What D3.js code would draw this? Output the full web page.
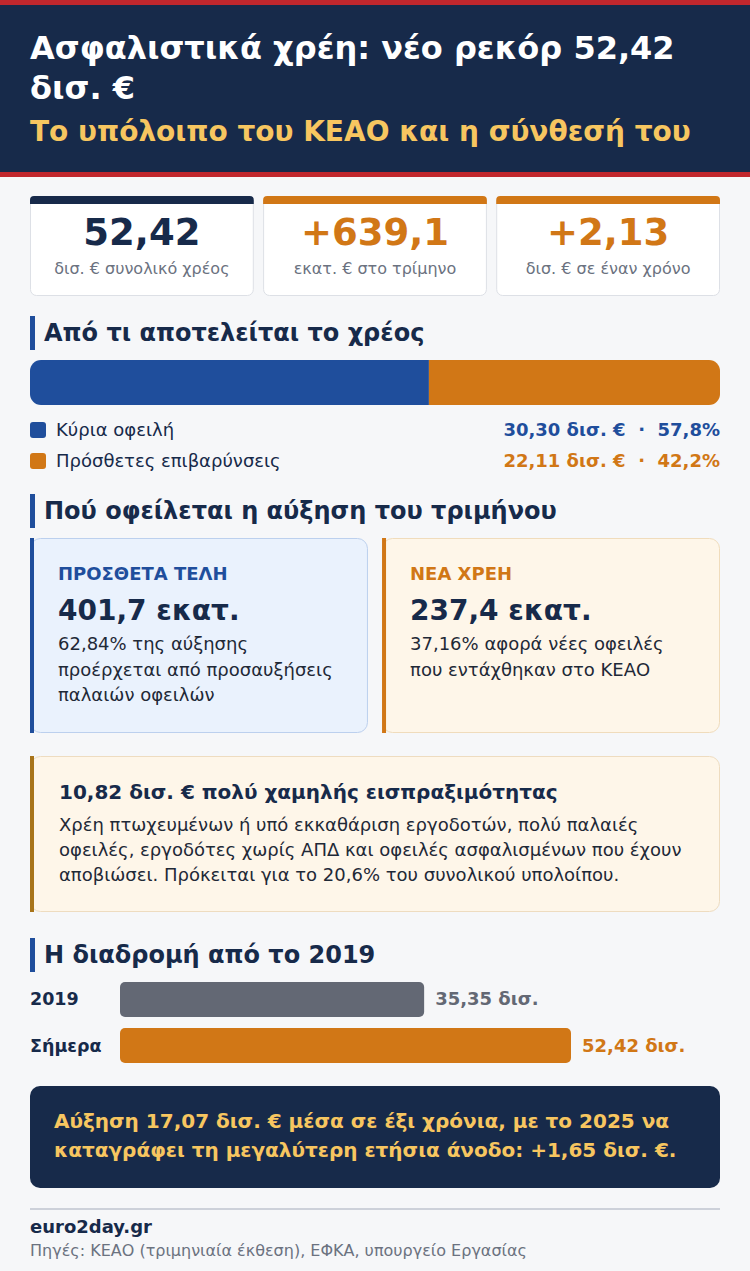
<!DOCTYPE html>
<html>
<head>
<meta charset="utf-8">
<script src="https://cdn.jsdelivr.net/npm/d3@7"></script>
<style>
  html, body { margin: 0; padding: 0; background: #f6f7f9; }
  svg { display: block; font-family: "DejaVu Sans", sans-serif; }
</style>
</head>
<body>
<div id="chart"></div>
<script>
// Δεδομένα
const titleLines = ["Ασφαλιστικά χρέη: νέο ρεκόρ 52,42", "δισ. €"];
const subtitle = "Το υπόλοιπο του ΚΕΑΟ και η σύνθεσή του";

const statValues = ["52,42", "+639,1", "+2,13"];
const statLabels = ["δισ. € συνολικό χρέος", "εκατ. € στο τρίμηνο", "δισ. € σε έναν χρόνο"];

const compNames = ["Κύρια οφειλή", "Πρόσθετες επιβαρύνσεις"];
const compValues = [30.30, 22.11];
const compLabels = ["30,30 δισ. €  ·  57,8%", "22,11 δισ. €  ·  42,2%"];

const growthTitles = ["ΠΡΟΣΘΕΤΑ ΤΕΛΗ", "ΝΕΑ ΧΡΕΗ"];
const growthValues = ["401,7 εκατ.", "237,4 εκατ."];
const growthText = [
  ["62,84% της αύξησης", "προέρχεται από προσαυξήσεις", "παλαιών οφειλών"],
  ["37,16% αφορά νέες οφειλές", "που εντάχθηκαν στο ΚΕΑΟ"]
];

const noteTitle = "10,82 δισ. € πολύ χαμηλής εισπραξιμότητας";
const noteText = [
  "Χρέη πτωχευμένων ή υπό εκκαθάριση εργοδοτών, πολύ παλαιές",
  "οφειλές, εργοδότες χωρίς ΑΠΔ και οφειλές ασφαλισμένων που έχουν",
  "αποβιώσει. Πρόκειται για το 20,6% του συνολικού υπολοίπου."
];

const pathYears = ["2019", "Σήμερα"];
const pathValues = [35.35, 52.42];
const pathLabels = ["35,35 δισ.", "52,42 δισ."];

const summary = [
  "Αύξηση 17,07 δισ. € μέσα σε έξι χρόνια, με το 2025 να",
  "καταγράφει τη μεγαλύτερη ετήσια άνοδο: +1,65 δισ. €."
];
const source = "euro2day.gr";
const sourceNote = "Πηγές: ΚΕΑΟ (τριμηνιαία έκθεση), ΕΦΚΑ, υπουργείο Εργασίας";

// Χρώματα
const navy = "#172a4a";
const orange = "#d17716";
const blue = "#1f4e9c";
const yellow = "#f7c660";
const gray = "#6b7280";

const W = 750, H = 1271;
const svg = d3.select("#chart").append("svg").attr("width", W).attr("height", H);

svg.append("rect").attr("width", W).attr("height", H).attr("fill", "#f6f7f9");

// Κεφαλίδα
svg.append("rect").attr("width", W).attr("height", 177).attr("fill", "#c1272d");
svg.append("rect").attr("y", 5).attr("width", W).attr("height", 167).attr("fill", navy);
titleLines.forEach((t, i) => {
  svg.append("text").attr("x", 30).attr("y", 59 + i * 40)
    .attr("fill", "#fff").attr("font-size", 32).attr("font-weight", "bold").text(t);
});
svg.append("text").attr("x", 30).attr("y", 141)
  .attr("fill", yellow).attr("font-size", 28).attr("font-weight", "bold").text(subtitle);

// Κάρτες στατιστικών
const statX = d3.scaleBand().domain(d3.range(statValues.length)).range([30, 720]).paddingInner(0.04);
const statColors = [navy, orange, orange];
const stat = svg.selectAll("g.stat").data(statValues).join("g")
  .attr("class", "stat").attr("transform", (d, i) => `translate(${statX(i)},196)`);
stat.append("rect").attr("x", 0.5).attr("y", 0.5).attr("width", statX.bandwidth() - 1).attr("height", 99).attr("rx", 6)
  .attr("fill", "#fff").attr("stroke", "#dde0e6");
stat.append("path")
  .attr("d", `M0,8 V4 A4,4 0 0 1 4,0 H${statX.bandwidth() - 4} A4,4 0 0 1 ${statX.bandwidth()},4 V8 Z`)
  .attr("fill", (d, i) => statColors[i]);
stat.append("text").attr("x", statX.bandwidth() / 2).attr("y", 49)
  .attr("text-anchor", "middle").attr("font-size", 37).attr("font-weight", "bold")
  .attr("fill", (d, i) => statColors[i]).text(d => d);
stat.append("text").attr("x", statX.bandwidth() / 2).attr("y", 78)
  .attr("text-anchor", "middle").attr("font-size", 16).attr("fill", gray)
  .text((d, i) => statLabels[i]);

function heading(y, text) {
  svg.append("rect").attr("x", 30).attr("y", y).attr("width", 5).attr("height", 34).attr("fill", blue);
  svg.append("text").attr("x", 44).attr("y", y + 25).attr("font-size", 24)
    .attr("font-weight", "bold").attr("fill", navy).text(text);
}

// Σύνθεση χρέους
heading(316, "Από τι αποτελείται το χρέος");
const total = d3.sum(compValues);
const compX = d3.scaleLinear().domain([0, total]).range([30, 720]);
const stacked = compValues.map((v, i) => ({ v, start: d3.sum(compValues.slice(0, i)) }));
const compColors = [blue, orange];
svg.append("clipPath").attr("id", "barclip").append("rect")
  .attr("x", 30).attr("y", 360).attr("width", 690).attr("height", 45).attr("rx", 11);
svg.append("g").attr("clip-path", "url(#barclip)")
  .selectAll("rect").data(stacked).join("rect")
  .attr("x", d => compX(d.start)).attr("y", 360)
  .attr("width", d => compX(d.start + d.v) - compX(d.start)).attr("height", 45)
  .attr("fill", (d, i) => compColors[i]);

const legend = svg.selectAll("g.leg").data(compNames).join("g")
  .attr("class", "leg").attr("transform", (d, i) => `translate(0,${422 + i * 31})`);
legend.append("rect").attr("x", 30).attr("width", 16).attr("height", 16).attr("rx", 3)
  .attr("fill", (d, i) => compColors[i]);
legend.append("text").attr("x", 56).attr("y", 14).attr("font-size", 18).attr("fill", navy).text(d => d);
legend.append("text").attr("x", 720).attr("y", 14).attr("text-anchor", "end")
  .attr("font-size", 18).attr("font-weight", "bold").attr("fill", (d, i) => compColors[i])
  .attr("xml:space", "preserve").text((d, i) => compLabels[i]);

// Αύξηση τριμήνου
heading(494, "Πού οφείλεται η αύξηση του τριμήνου");
const gx = d3.scaleBand().domain(d3.range(2)).range([30, 720]).paddingInner(0.04);
const gFill = ["#eaf2fd", "#fef6e9"];
const gStroke = ["#bcd0ee", "#f0dcbc"];
const gAccent = [blue, orange];
const gCard = svg.selectAll("g.grow").data(growthTitles).join("g")
  .attr("class", "grow").attr("transform", (d, i) => `translate(${gx(i)},538)`);
gCard.append("rect").attr("x", 0.5).attr("y", 0.5).attr("width", gx.bandwidth() - 1).attr("height", 194)
  .attr("rx", 10).attr("fill", (d, i) => gFill[i]).attr("stroke", (d, i) => gStroke[i]);
gCard.append("rect").attr("width", 4).attr("height", 195).attr("fill", (d, i) => gAccent[i]);
gCard.append("text").attr("x", 28).attr("y", 42).attr("font-size", 18).attr("font-weight", "bold")
  .attr("fill", (d, i) => gAccent[i]).text(d => d);
gCard.append("text").attr("x", 28).attr("y", 82).attr("font-size", 28).attr("font-weight", "bold")
  .attr("fill", navy).text((d, i) => growthValues[i]);
gCard.each(function (d, i) {
  d3.select(this).selectAll("text.desc").data(growthText[i]).join("text")
    .attr("class", "desc").attr("x", 28).attr("y", (t, j) => 112 + j * 25.5)
    .attr("font-size", 18).attr("fill", "#1f2937").text(t => t);
});

// Σημείωση
const note = svg.append("g").attr("transform", "translate(30,756)");
note.append("rect").attr("x", 0.5).attr("y", 0.5).attr("width", 689).attr("height", 155).attr("rx", 10)
  .attr("fill", "#fef6e9").attr("stroke", "#eedcc0");
note.append("rect").attr("width", 4).attr("height", 156).attr("fill", "#a8741a");
note.append("text").attr("x", 29).attr("y", 43).attr("font-size", 20).attr("font-weight", "bold")
  .attr("fill", navy).text(noteTitle);
note.selectAll("text.body").data(noteText).join("text").attr("class", "body")
  .attr("x", 29).attr("y", (d, i) => 75 + i * 25).attr("font-size", 18).attr("fill", "#1f2937").text(d => d);

// Διαδρομή από το 2019
heading(938, "Η διαδρομή από το 2019");
const px = d3.scaleLinear().domain([0, d3.max(pathValues)]).range([0, 451]);
const py = d3.scaleBand().domain(pathYears).range([982, 1063]).paddingInner(0.24).paddingOuter(0);
const pColors = ["#636874", orange];
const pRow = svg.selectAll("g.path").data(pathYears).join("g").attr("class", "path")
  .attr("transform", d => `translate(0,${py(d)})`);
pRow.append("text").attr("x", 30).attr("y", py.bandwidth() / 2 + 6).attr("font-size", 17.5)
  .attr("font-weight", "bold").attr("fill", navy).text(d => d);
pRow.append("rect").attr("x", 120).attr("width", (d, i) => px(pathValues[i])).attr("height", py.bandwidth())
  .attr("rx", 5).attr("fill", (d, i) => pColors[i]);
pRow.append("text").attr("x", (d, i) => 120 + px(pathValues[i]) + 11).attr("y", py.bandwidth() / 2 + 6)
  .attr("font-size", 18).attr("font-weight", "bold").attr("fill", (d, i) => i ? orange : "#636874")
  .text((d, i) => pathLabels[i]);

// Σύνοψη
svg.append("rect").attr("x", 30).attr("y", 1086).attr("width", 690).attr("height", 102).attr("rx", 10).attr("fill", navy);
svg.selectAll("text.sum").data(summary).join("text").attr("class", "sum")
  .attr("x", 54).attr("y", (d, i) => 1128 + i * 29).attr("font-size", 20).attr("font-weight", "bold")
  .attr("fill", yellow).text(d => d);

// Υποσέλιδο
svg.append("rect").attr("x", 30).attr("y", 1208).attr("width", 690).attr("height", 2).attr("fill", "#cdd1da");
svg.append("text").attr("x", 30).attr("y", 1233).attr("font-size", 18).attr("font-weight", "bold")
  .attr("fill", navy).text(source);
svg.append("text").attr("x", 30).attr("y", 1256).attr("font-size", 16).attr("fill", gray).text(sourceNote);
</script>
</body>
</html>
